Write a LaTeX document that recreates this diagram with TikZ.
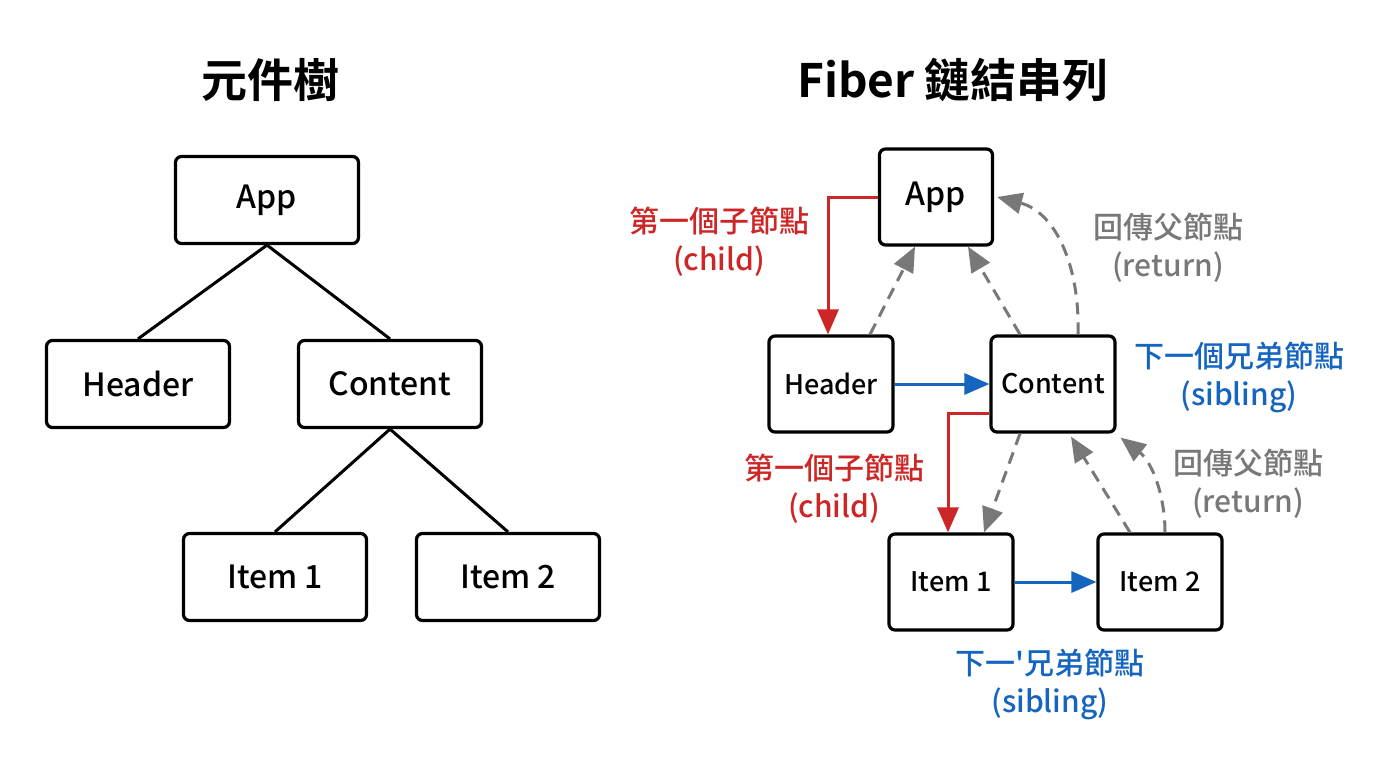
\documentclass[tikz,border=0pt]{standalone}
\usepackage{fontspec}
\setmainfont{Noto Sans CJK TC Medium}
\newfontfamily\titlefont{Noto Sans CJK TC Bold}
\newfontfamily\lblfont{Noto Sans CJK TC Medium}
\usetikzlibrary{arrows.meta}
\definecolor{cred}{RGB}{205,38,38}
\definecolor{cblue}{RGB}{21,101,192}
\definecolor{cgray}{RGB}{120,120,120}
\begin{document}
\begin{tikzpicture}[x=1pt,y=-1pt,
  lbox/.style={draw=black, line width=3.2pt, rounded corners=6pt, fill=white, inner sep=0pt,
    minimum width=183pt, minimum height=87pt, font=\fontsize{32}{38}\selectfont},
  rbox/.style={draw=black, line width=3.2pt, rounded corners=6pt, fill=white, inner sep=0pt,
    minimum width=124pt, minimum height=96pt, font=\fontsize{27}{32}\selectfont},
  tline/.style={draw=black, line width=3pt},
  tip/.style={-{Triangle[length=25pt,width=21pt]}},
  redarr/.style={tip, draw=cred, line width=3pt},
  bluearr/.style={tip, draw=cblue, line width=3pt},
  grayarr/.style={tip, draw=cgray, line width=3pt, dash pattern=on 12pt off 8pt},
  lbl/.style={align=center, font=\lblfont\fontsize{30}{38}\selectfont},
  ttl/.style={font=\titlefont\fontsize{46}{50}\selectfont}
]
\useasboundingbox[fill=white] (0,0) rectangle (1376,768);

% titles
\node[ttl] (t1) at (270,80) {元件樹};
\node[ttl] (t2) at (953,80) {Fiber 鏈結串列};

% left tree
\node[lbox] (lapp) at (267,200) {App};
\node[lbox] (lhdr) at (138,384) {Header};
\node[lbox] (lcont) at (390,384) {Content};
\node[lbox] (li1) at (275,577) {Item 1};
\node[lbox] (li2) at (508,577) {Item 2};
\draw[tline] (lapp.south) -- (lhdr.north);
\draw[tline] (lapp.south) -- (lcont.north);
\draw[tline] (lcont.south) -- (li1.north);
\draw[tline] (lcont.south) -- (li2.north);

% right fiber list
\node[rbox, minimum width=113pt, font=\fontsize{32}{38}\selectfont] (rapp) at (936,197) {App};
\node[rbox] (rhdr) at (831,384) {Header};
\node[rbox] (rcont) at (1053,384) {Content};
\node[rbox] (ri1) at (951,582) {Item 1};
\node[rbox] (ri2) at (1160,582) {Item 2};

% child arrows
\draw[redarr] (rapp.west) -| ([xshift=-3pt]rhdr.north);
\draw[redarr] ([yshift=-29pt]rcont.west) -| ([xshift=-3pt]ri1.north);

% sibling arrows
\draw[bluearr] (rhdr.east) -- (rcont.west);
\draw[bluearr] (ri1.east) -- (ri2.west);

% return arrows
\draw[grayarr] ([xshift=39pt]rhdr.north) -- ([xshift=-21pt]rapp.south);
\draw[grayarr] ([xshift=-33pt]rcont.north) -- ([xshift=32pt]rapp.south);
\draw[grayarr] ([xshift=25pt]rcont.north) .. controls (1080,265) and (1055,212) .. ([xshift=3pt]rapp.east);
\draw[grayarr] ([xshift=-33pt]rcont.south) -- ([xshift=33pt]ri1.north);
\draw[grayarr] ([xshift=-30pt]ri2.north) -- ([xshift=18pt,yshift=-3pt]rcont.south);
\draw[grayarr] ([xshift=5pt]ri2.north) .. controls (1165,495) and (1152,462) .. ([xshift=4pt,yshift=-4pt]rcont.south east);

% labels
\node[lbl, text=cred] (lc1) at (719,242) {第一個子節點\\(child)};
\node[lbl, text=cgray] (lr1) at (1168,248) {回傳父節點\\(return)};
\node[lbl, text=cblue] (ls1) at (1239,377) {下一個兄弟節點\\(sibling)};
\node[lbl, text=cred] (lc2) at (834,489) {第一個子節點\\(child)};
\node[lbl, text=cgray] (lr2) at (1248,484) {回傳父節點\\(return)};
\node[lbl, text=cblue] (ls2) at (1050,684) {下一'兄弟節點\\(sibling)};
\end{tikzpicture}
\end{document}
